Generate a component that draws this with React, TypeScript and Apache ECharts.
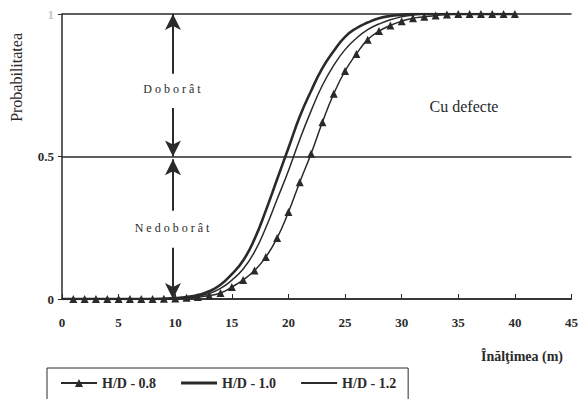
import React, { useEffect, useRef } from "react";
import * as echarts from "echarts";

const heights = [0,1,2,3,4,5,6,7,8,9,10,11,12,13,14,15,16,17,18,19,20,21,22,23,24,25,26,27,28,29,30,31,32,33,34,35,36,37,38,39,40];
const hd08 = [null,0,0,0,0,0,0,0,0,0.001,0.002,0.004,0.007,0.012,0.021,0.042,0.067,0.10,0.147,0.214,0.305,0.41,0.51,0.62,0.72,0.80,0.86,0.91,0.94,0.96,0.975,0.985,0.99,0.995,0.998,1,1,1,1,1,1];
const hd10 = [0,0,0,0,0,0,0,0,0,0.001,0.003,0.007,0.014,0.027,0.05,0.087,0.135,0.21,0.31,0.42,0.53,0.64,0.73,0.81,0.87,0.92,0.95,0.97,0.985,0.993,0.997,1,1,1,1,1,1,1,1,1,1];
const hd12 = [0,0,0,0,0,0,0,0,0,0.001,0.002,0.005,0.01,0.019,0.037,0.066,0.105,0.165,0.25,0.35,0.45,0.56,0.66,0.75,0.82,0.875,0.915,0.945,0.965,0.98,0.99,0.996,1,1,1,1,1,1,1,1,1];
const seriesNames = ["H/D - 0.8", "H/D - 1.0", "H/D - 1.2"];
const yTicks = ["0", "0.5", "1"];

const serif = "Liberation Serif";
const ink = "#2a2a2a";

export default function App() {
  const ref = useRef<HTMLDivElement>(null);
  useEffect(() => {
    const chart = echarts.init(ref.current!, null, { renderer: "svg" });
    const pair = (arr: (number | null)[]) => heights.map((h, i) => [h, arr[i]]).filter((p) => p[1] !== null);
    const arrowX = 9.8;
    chart.setOption({
      animation: false,
      backgroundColor: "#fff",
      grid: { left: 62, right: 8, top: 14, bottom: 100 },
      xAxis: {
        type: "value", min: 0, max: 45, interval: 5,
        axisLine: { show: true, lineStyle: { color: ink, width: 1.5 } },
        axisTick: { show: true, inside: true, length: 5, lineStyle: { color: ink } },
        splitLine: { show: false },
        axisLabel: { fontFamily: serif, fontSize: 13, fontWeight: "bold", color: ink, margin: 17 },
      },
      yAxis: {
        type: "value", min: 0, max: 1, interval: 0.5,
        axisLine: { show: true, lineStyle: { color: ink, width: 1.5 } },
        axisTick: { show: true, length: 4, lineStyle: { color: ink } },
        splitLine: { show: true, lineStyle: { color: ink, width: 1.5 } },
        axisLabel: {
          fontFamily: serif, fontSize: 13, fontWeight: "bold", margin: 8,
          formatter: (v: number) => yTicks[Math.round(v * 2)],
          color: (v: any) => (Number(v) === 1 ? "#c8c8c8" : ink),
        },
      },
      legend: {
        left: 47, top: 368, orient: "horizontal",
        itemWidth: 36, itemHeight: 10, itemGap: 25,
        padding: [8, 12, 14, 13],
        borderColor: ink, borderWidth: 1,
        textStyle: { fontFamily: serif, fontSize: 14, fontWeight: "bold", color: ink },
        data: [
          { name: seriesNames[0] },
          { name: seriesNames[1], icon: "path://M0,0 L36,0 L36,3 L0,3 Z" },
          { name: seriesNames[2], icon: "path://M0,0 L36,0 L36,2.2 L0,2.2 Z" },
        ],
      },
      series: [
        {
          name: seriesNames[0], type: "line", smooth: true, data: pair(hd08),
          symbol: "triangle", symbolSize: 8, showSymbol: true,
          lineStyle: { color: ink, width: 1.5 }, itemStyle: { color: ink },
          markLine: {
            silent: true, symbol: ["arrow", "none"], symbolSize: [12, 16],
            lineStyle: { color: ink, width: 2, type: "solid" }, label: { show: false },
            data: [
              [{ coord: [arrowX, 1] }, { coord: [arrowX, 0.79] }],
              [{ coord: [arrowX, 0.5] }, { coord: [arrowX, 0.67] }],
              [{ coord: [arrowX, 0.49] }, { coord: [arrowX, 0.31] }],
              [{ coord: [arrowX, 0] }, { coord: [arrowX, 0.18] }],
            ],
          },
        },
        {
          name: seriesNames[1], type: "line", smooth: true, data: pair(hd10),
          symbol: "none", lineStyle: { color: ink, width: 2.6 }, itemStyle: { color: ink },
        },
        {
          name: seriesNames[2], type: "line", smooth: true, data: pair(hd12),
          symbol: "none", lineStyle: { color: ink, width: 1.5 }, itemStyle: { color: ink },
        },
      ],
      graphic: [
        { type: "text", left: 8, top: 33, rotation: Math.PI / 2, style: { text: "Probabilitatea", fontFamily: serif, fontSize: 16, fill: ink } },
        { type: "text", x: 172, y: 89, style: { text: "D o b o r â t", fontFamily: serif, fontSize: 12, fill: ink, align: "center", verticalAlign: "middle" } },
        { type: "text", x: 172, y: 228, style: { text: "N e d o b o r â t", fontFamily: serif, fontSize: 12, fill: ink, align: "center", verticalAlign: "middle" } },
        { type: "text", x: 464, y: 106, style: { text: "Cu defecte", fontFamily: serif, fontSize: 16, fill: ink, align: "center", verticalAlign: "middle" } },
        { type: "text", x: 563, y: 356, style: { text: "Înălţimea (m)", fontFamily: serif, fontSize: 14, fontWeight: "bold", fill: ink, align: "right", verticalAlign: "middle" } },
      ],
    });
    return () => chart.dispose();
  }, []);
  return <div ref={ref} style={{ width: 581, height: 399, position: "absolute", left: 0, top: 0 }} />;
}
